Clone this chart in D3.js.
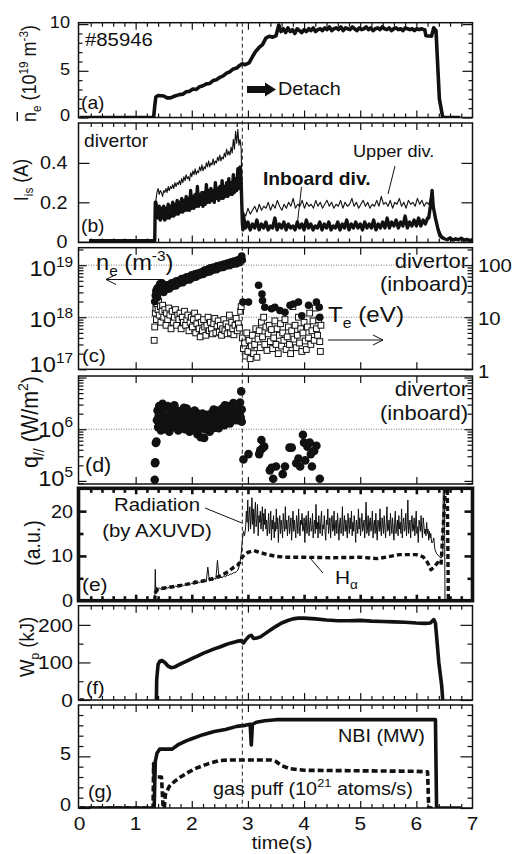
<!DOCTYPE html>
<html>
<head>
<meta charset="utf-8">
<style>
  body { margin: 0; background: #fff; }
  svg { display: block; font-family: "Liberation Sans", Arial, Helvetica, sans-serif; }
  .tr { fill: none; stroke: #111; stroke-linejoin: round; stroke-linecap: butt; }
</style>
</head>
<body>
<svg width="518" height="854"></svg>
<script src="https://d3js.org/d3.v7.min.js"></script>
<script>
// ---- data ----
// samples that are evenly spaced in time between t0 and t1
function spread(t0, t1, vals) {
  var dt = (t1 - t0) / (vals.length - 1);
  return vals.map(function(v, i) { return [t0 + i * dt, v]; });
}

var xTickLabels = [0, 1, 2, 3, 4, 5, 6, 7];
var detachTime = 2.9;

// (a) line averaged density, 1e19 m^-3
var neBarHead = [[0,0],[1.32,0],[1.34,1.2],[1.36,2.2],[1.40,2.35],[1.50,2.3],[1.56,2.1],[1.62,2.1],[1.70,2.3],
  [1.78,2.45],[1.84,2.5],[1.90,2.75],[1.96,2.8],[2.02,3.05],[2.08,3.0],[2.14,3.3],[2.20,3.4],[2.26,3.6],[2.32,3.65],
  [2.38,3.95],[2.44,4.05],[2.50,4.3],[2.56,4.45],[2.62,4.75],[2.68,4.9],[2.74,5.2],[2.80,5.3],[2.86,5.6],[2.90,5.75],
  [2.95,5.65],[3.02,5.85],[3.08,6.5],[3.14,7.1],[3.20,7.5],[3.26,7.8],[3.32,8.5],[3.38,8.7],[3.44,8.6],[3.50,8.75],[3.55,9.9]];
var neBarFlat = [9.2,9.5,9.1,9.6,9.2,9.4,9.0,9.5,9.3,9.1,9.4,9.2,9.5,9.3,9.6,9.2,9.4,9.5,9.3,9.6,9.4,9.7,9.3,9.5,
  9.6,9.4,9.7,9.3,9.6,9.5,9.4,9.7,9.5,9.3,9.6,9.4,9.5,9.7,9.4,9.6,9.3,9.5,9.6,9.4,9.7,9.5,9.4,9.6,9.3,9.5,9.6,9.4,
  9.5,9.3,9.6,9.5,9.4,9.5,9.3,9.5,9.4,9.5,9.4];
var neBarTail = [[6.15,9.4],[6.17,8.75],[6.27,8.7],[6.31,9.6],[6.35,9.3],[6.41,2.0],[6.47,0],[6.78,0]];

// (b) ion saturation current, A
var upperHead = [[0.17,0.005],[1.34,0.005],[1.35,0.15]];
var upperRise = [0.21,0.25,0.27,0.24,0.26,0.25,0.23,0.26,0.25,0.27,0.25,0.28,0.26,0.28,0.27,0.29,0.27,0.30,0.28,0.30,
  0.29,0.31,0.29,0.32,0.30,0.33,0.31,0.34,0.32,0.33,0.31,0.35,0.33,0.36,0.34,0.37,0.34,0.36,0.35,0.38,0.36,0.39,0.36,
  0.38,0.37,0.40,0.38,0.41,0.38,0.40,0.39,0.42,0.39,0.41,0.40,0.43,0.41,0.44,0.41,0.43,0.42,0.45,0.43,0.47,0.44,0.46,
  0.44,0.48,0.45,0.52,0.47,0.56,0.50,0.57,0.49,0.52];
var upperDrop = [[2.88,0.47],[2.89,0.30],[2.90,0.17],[2.91,0.12]];
var upperFlat = [0.15,0.13,0.17,0.14,0.16,0.18,0.15,0.19,0.16,0.18,0.17,0.20,0.16,0.19,0.17,0.21,0.18,0.16,0.19,0.17,
  0.20,0.18,0.22,0.17,0.19,0.18,0.21,0.17,0.20,0.18,0.19,0.17,0.21,0.18,0.20,0.17,0.19,0.21,0.18,0.20,0.17,0.19,0.18,
  0.21,0.17,0.20,0.18,0.19,0.22,0.18,0.20,0.17,0.19,0.21,0.18,0.20,0.17,0.19,0.18,0.21,0.18,0.23,0.19,0.20,0.18,0.21,
  0.17,0.20,0.19,0.22,0.18,0.20,0.17,0.21,0.19,0.20,0.18,0.22,0.19,0.21,0.18,0.20,0.19];
var upperTail = [[6.24,0.21],[6.27,0.24],[6.30,0.20],[6.34,0.13],[6.38,0.08],[6.42,0.05],[6.46,0.03],[6.50,0.02]];

var inboardHead = [[0.17,0.005],[1.34,0.005],[1.35,0.20]];
var inboardRise = [0.20,0.16,0.12,0.18,0.11,0.17,0.12,0.18,0.11,0.17,0.12,0.19,0.12,0.18,0.13,0.20,0.13,0.19,0.14,
  0.21,0.14,0.20,0.15,0.22,0.15,0.21,0.16,0.23,0.16,0.22,0.16,0.26,0.17,0.23,0.17,0.24,0.18,0.28,0.18,0.24,0.19,0.25,
  0.18,0.25,0.19,0.29,0.20,0.26,0.20,0.27,0.21,0.26,0.20,0.30,0.22,0.27,0.21,0.28,0.22,0.31,0.22,0.28,0.23,0.30,0.23,
  0.32,0.24,0.30,0.24,0.34,0.25,0.32,0.26,0.37,0.27,0.38,0.30];
var inboardDrop = [[2.90,0.10],[2.91,0.06]];
var inboardFlat = [0.13,0.07,0.10,0.06,0.09,0.07,0.11,0.06,0.09,0.07,0.10,0.06,0.08,0.07,0.12,0.06,0.09,0.07,0.10,
  0.06,0.09,0.07,0.08,0.06,0.10,0.07,0.09,0.06,0.11,0.07,0.09,0.06,0.08,0.07,0.10,0.06,0.09,0.07,0.10,0.06,0.08,0.07,
  0.10,0.06,0.09,0.07,0.11,0.06,0.09,0.07,0.10,0.07,0.09,0.06,0.10,0.07,0.09,0.07,0.11,0.06,0.09,0.07,0.10,0.07,0.12,
  0.07,0.10,0.08,0.11,0.07,0.10,0.08,0.13,0.07,0.10,0.08,0.11,0.08,0.12,0.08,0.11,0.09,0.12];
var inboardTail = [[6.22,0.12],[6.26,0.20],[6.28,0.26],[6.30,0.18],[6.34,0.12],[6.38,0.07],[6.42,0.03],[6.46,0.02],
  [6.50,0.015],[6.55,0.01],[6.60,0.02],[6.65,0.008],[6.70,0.015],[6.75,0.01],[6.80,0.018],[6.85,0.008],[6.90,0.012],
  [6.95,0.006],[7.0,0.01]];

// (c) divertor density (m^-3) and temperature (eV)
var neDiv = [[1.34,2.0e18],[1.35,2.6e18],[1.36,3.2e18],[1.37,2.8e18],[1.38,3.6e18],[1.40,3.0e18],[1.41,3.9e18],
  [1.43,4.4e18],[1.45,4.0e18],[1.47,4.6e18],[1.49,3.8e18],[1.51,3.5e18],[1.53,3.9e18],[1.56,4.2e18],[1.58,3.7e18],
  [1.61,4.3e18],[1.64,4.6e18],[1.67,4.1e18],[1.70,4.8e18],[1.73,5.0e18],[1.76,4.5e18],[1.79,5.2e18],[1.82,5.5e18],
  [1.85,5.0e18],[1.88,5.7e18],[1.91,6.0e18],[1.94,5.4e18],[1.97,6.2e18],[2.00,6.5e18],[2.03,6.0e18],[2.06,6.8e18],
  [2.09,7.0e18],[2.12,6.4e18],[2.15,7.3e18],[2.18,6.9e18],[2.21,7.8e18],[2.24,8.1e18],[2.27,7.5e18],[2.30,8.5e18],
  [2.33,8.9e18],[2.36,8.2e18],[2.39,9.2e18],[2.42,8.8e18],[2.45,9.7e18],[2.48,9.1e18],[2.51,1.0e19],[2.54,9.5e18],
  [2.57,1.05e19],[2.60,1.0e19],[2.63,1.1e19],[2.66,1.03e19],[2.69,1.15e19],[2.72,1.08e19],[2.75,1.2e19],[2.78,1.12e19],
  [2.81,1.25e19],[2.84,1.18e19],[2.87,1.35e19],[2.89,1.5e19],[2.90,1.25e19],
  [1.39,2.4e18],[1.44,3.2e18],[1.50,3.0e18],[1.55,3.4e18],[1.60,3.5e18],[1.66,3.9e18],[1.72,4.0e18],[1.78,4.5e18],
  [1.84,4.6e18],[1.90,5.1e18],[1.96,5.2e18],[2.02,5.7e18],[2.08,5.9e18],[2.14,6.4e18],[2.20,6.6e18],[2.26,7.2e18],
  [2.32,7.4e18],[2.38,8.0e18],[2.44,8.2e18],[2.50,8.8e18],[2.56,9.0e18],[2.62,9.6e18],[2.68,9.8e18],[2.74,1.04e19],
  [2.80,1.06e19],[2.86,1.13e19],
  [2.91,1.95e18],[3.01,1.95e18],[3.19,4.1e18],[3.25,2.8e18],[3.26,2.1e18],[3.30,1.55e18],[3.42,1.45e18],[3.48,1.55e18],
  [3.57,1.35e18],[3.66,1.25e18],[3.75,1.7e18],[3.81,1.8e18],[3.90,1.95e18],[3.96,1.07e18],[4.08,1.7e18],[4.22,1.95e18],
  [4.27,1.55e18],[4.28,1.0e18]];
var teDiv = [[1.33,3.6],[1.34,6.5],[1.35,12],[1.36,15],[1.37,9],[1.38,18],[1.40,14],[1.41,20],[1.42,11],[1.44,16],
  [1.45,8],[1.47,13],[1.48,17],[1.50,10],[1.52,14],[1.54,7],[1.55,12],[1.57,9],[1.59,15],[1.61,11],[1.63,6],[1.65,13],
  [1.67,8],[1.69,10],[1.71,14],[1.73,7],[1.75,11],[1.77,9],[1.79,12],[1.81,6],[1.83,10],[1.85,8],[1.87,13],[1.89,7],
  [1.91,9],[1.93,11],[1.95,5.5],[1.97,8],[1.99,10],[2.01,6.5],[2.03,9],[2.05,12],[2.07,5],[2.09,7.5],[2.11,10],[2.13,6],
  [2.15,4.2],[2.17,8],[2.19,5.5],[2.21,9],[2.23,6.5],[2.25,4.5],[2.27,7],[2.29,10],[2.31,5.5],[2.33,8],[2.35,6],
  [2.37,4.8],[2.39,7.5],[2.41,9.5],[2.43,5],[2.45,6.8],[2.47,8.5],[2.49,5.2],[2.51,7],[2.53,4.5],[2.55,6],[2.57,9],
  [2.59,5.5],[2.61,7.5],[2.63,4.8],[2.65,6.5],[2.67,11],[2.69,5],[2.71,8],[2.73,6],[2.75,4.6],[2.77,7],[2.79,9.5],
  [2.81,5.5],[2.83,7.5],[2.85,6.2],[2.87,13],[2.88,16],
  [2.90,4],[2.92,2.5],[2.94,3.2],[2.96,1.8],[2.98,5],[3.00,2.2],[3.02,3.6],[3.04,1.6],[3.06,2.8],[3.08,4.5],[3.10,2],
  [3.12,3],[3.14,6],[3.16,1.7],[3.18,3.8],[3.20,5.5],[3.22,2.6],[3.24,8],[3.26,4.2],[3.28,10],[3.30,3],[3.32,6.5],
  [3.34,2.3],[3.36,4.8],[3.38,7],[3.40,3.4],[3.42,5.8],[3.44,2.5],[3.46,4],[3.48,8.5],[3.50,3],[3.52,6],[3.54,2],
  [3.56,4.5],[3.58,7.5],[3.60,2.8],[3.62,5],[3.64,3.6],[3.66,9],[3.68,2.4],[3.70,4.2],[3.72,6.5],[3.74,3],[3.76,2],
  [3.78,5.5],[3.80,16],[3.82,3.8],[3.84,7],[3.86,2.6],[3.88,4.5],[3.90,10],[3.92,3.2],[3.94,6],[3.96,2.2],[3.98,5],
  [4.00,8],[4.02,3.5],[4.04,2.4],[4.06,6.5],[4.08,4],[4.10,12],[4.12,3],[4.14,5.5],[4.16,8.5],[4.18,3.6],[4.20,15],
  [4.22,6],[4.24,4.5],[4.26,9],[4.28,3.4],[4.30,7],[4.29,2.2]];

// (d) parallel heat flux, W/m^2
var qDiv = [[1.34,1.05e5],[1.345,2.2e5],[1.35,2.3e5],[1.36,5.4e5],[1.37,5.8e5],
  [1.38,1.5e6],[1.39,2.3e6],[1.40,1.1e6],[1.41,1.8e6],[1.42,2.8e6],[1.43,1.3e6],[1.45,0.95e6],[1.46,2.1e6],[1.47,1.6e6],
  [1.48,3.1e6],[1.50,1.2e6],[1.51,2.6e6],[1.53,1.0e6],[1.55,1.8e6],[1.57,2.8e6],[1.58,1.3e6],[1.60,0.9e6],[1.62,2.1e6],
  [1.64,1.5e6],[1.66,2.6e6],[1.68,1.1e6],[1.70,1.9e6],[1.72,1.3e6],[1.74,2.3e6],[1.76,0.95e6],[1.78,1.6e6],[1.80,2.1e6],
  [1.82,1.2e6],[1.84,1.5e6],[1.86,2.6e6],[1.88,1.0e6],[1.90,1.8e6],[1.92,1.3e6],[1.94,2.2e6],[1.96,0.9e6],[1.98,1.5e6],
  [2.00,1.2e6],[2.02,1.9e6],[2.04,1.0e6],[2.06,1.4e6],[2.08,2.1e6],[2.10,0.8e6],[2.12,1.3e6],[2.14,1.7e6],[2.16,0.7e6],
  [2.18,1.1e6],[2.20,1.6e6],[2.22,0.68e6],[2.24,1.0e6],[2.26,1.9e6],[2.28,1.2e6],[2.30,1.6e6],[2.32,0.9e6],[2.34,2.0e6],
  [2.36,1.3e6],[2.38,1.05e6],[2.40,1.8e6],[2.42,1.3e6],[2.44,2.3e6],[2.46,1.5e6],[2.48,1.05e6],[2.50,1.9e6],[2.52,1.4e6],
  [2.54,2.5e6],[2.56,1.7e6],[2.58,1.2e6],[2.60,2.2e6],[2.62,1.5e6],[2.64,2.8e6],[2.66,1.8e6],[2.68,1.3e6],[2.70,2.5e6],
  [2.72,1.7e6],[2.74,3.2e6],[2.76,2.1e6],[2.78,1.5e6],[2.80,2.7e6],[2.82,1.9e6],[2.84,2.4e6],[2.86,3.3e6],[2.87,1.7e6],
  [2.88,5.4e6],[2.89,1.4e6],[2.89,2.4e6],
  [1.44,2.5e6],[1.52,1.5e6],[1.63,1.1e6],[1.69,2.9e6],[1.75,1.7e6],[1.85,1.1e6],[1.91,2.5e6],[1.99,1.9e6],[2.05,2.3e6],
  [2.13,1.0e6],[2.19,2.0e6],[2.27,1.5e6],[2.33,1.3e6],[2.39,2.4e6],[2.45,1.1e6],[2.53,1.9e6],[2.59,2.9e6],[2.65,1.4e6],
  [2.71,2.1e6],[2.77,2.9e6],[2.83,1.5e6],[2.85,2.0e6],
  [2.92,2.6e5],[3.01,3.3e5],[3.20,3.3e5],[3.22,3.9e5],[3.24,6.2e5],[3.26,4.3e5],[3.29,4.6e5],[3.39,1.6e5],[3.42,1.8e5],
  [3.45,1.1e5],[3.50,1.9e5],[3.62,1.35e5],[3.66,1.9e5],[3.74,4.4e5],[3.78,4.4e5],[3.86,2.2e5],[3.90,2.7e5],[3.93,1.9e5],
  [3.98,7.8e5],[4.00,5.5e5],[4.02,2.5e5],[4.06,4.6e5],[4.10,5.5e5],[4.12,3.3e5],[4.14,1.9e5],[4.18,3.8e5],[4.22,4.8e5],
  [4.28,1.1e5]];

// (e) radiation (AXUVD) and H-alpha, a.u.
var radHead = [[1.34,0],[1.35,7],[1.36,1.5],[1.37,3.0],[1.38,2.3]];
var radRise = [2.6,2.8,2.5,2.9,2.7,3.0,2.8,3.1,2.9,3.2,3.0,3.3,3.1,3.5,3.2,3.6,3.3,3.7,3.5,3.8,3.6,4.0,3.7,4.6,3.9,
  4.2,4.0,4.4,4.1,4.5,4.2,7.5,4.4,4.7,4.5,5.0,4.8,9.0,5.0,5.3,5.1,5.6,5.3,5.8,5.6,6.0,5.9,6.3,6.2,6.6];
var radJump = [[2.82,6.8],[2.84,7.5],[2.86,8.6],[2.88,10.5],[2.90,13.5],[2.92,15.5],[2.94,14.5]];
var radFlat = [16.5,20,17.5,22.5,15.5,19,21,16,18.5,23,17,20.5,15,19.5,22,16.5,18,21.5,14.5,19,
  17.5,20,16,18.5,21,15.5,19.5,17,20.5,16,
  18,14.5,17,19.5,15,16.5,20,13.5,18,16,19,14,17.5,15.5,20.5,16,18.5,13,17,19,
  15,18,16.5,14,19.5,17,15.5,21,16,18,14.5,17.5,19,15,16.5,18.5,13.5,17,20,15.5,
  18,16,14,19,17.5,15,20.5,16.5,14.5,18,17,19.5,15.5,16,18.5,13,17.5,19,15,16.5,
  20,14.5,17,18.5,15.5,16,19.5,14,17,18,15,21.5,16,17.5,14,19,16.5,15,18,20,
  14.5,17,16,19,15.5,13.5,18,17,20.5,15,16.5,18.5,14,17.5,19,15.5,16,20,14.5,17,
  18,15,19.5,16.5,13.5,17.5,18.5,15,16,21,14.5,17,19,15.5,18,16,14,19.5,17,15,
  18.5,16,20,14.5,17.5,15.5,19,16.5,13,18,17,15,20.5,16,18.5,14.5,17,19.5,15.5,16.5,
  18,14,17.5,22,15,16,19,14.5,17.5,18.5,15.5,16.5,20,14,17,18,15,19.5,16,13.5,
  18,17,15.5,20.5,16,14.5,18.5,17,15,19,16.5,14,17.5,21,15.5,16,18,14.5,19.5,17,
  15,18.5,16,13.5,17.5,20,15,16.5,18,14.5,19,16,17.5,15,20.5,14,17,18.5,15.5,16,
  19.5,14.5,17,22.5,15,16.5,18,14,17.5,19,15.5,16,18.5,14.5,17,20,15,16.5,13,18,
  17,15.5,19,16,14,18.5,17,15,16,14.5,17.5,15,16,13.5,15.5,14,15,13];
var radTail = [[6.29,13],[6.31,14],[6.33,11.5],[6.36,10.5],[6.40,10],[6.44,9.5],[6.47,10],[6.48,26],[6.50,26],[6.51,0],[6.60,0]];
var hAlpha = [[1.34,0],[1.35,1.8],[1.40,2.6],[1.6,3.0],[1.8,3.4],[2.0,3.9],[2.2,4.4],[2.4,5.0],[2.5,5.5],[2.65,6.5],
  [2.74,7.4],[2.82,8.0],[2.86,8.6],[2.9,9.8],[3.0,10.8],[3.1,11.2],[3.2,10.8],[3.35,10.3],[3.5,9.9],[3.7,9.7],[4.0,9.7],
  [4.5,9.6],[5.0,9.7],[5.3,9.4],[5.5,9.8],[5.7,10.3],[6.0,10.3],[6.12,9.8],[6.2,8.5],[6.26,6.9],[6.32,7.6],[6.38,8.5],
  [6.44,8.0],[6.52,26],[6.55,26],[6.57,0],[6.62,0]];

// (f) stored energy, kJ
var wpStart = [[0,0],[0.08,0]];
var wp = [[1.37,0],[1.375,55],[1.40,95],[1.43,103],[1.47,105],[1.52,100],[1.58,90],[1.63,86],[1.70,88],[1.80,96],
  [1.90,103],[2.00,110],[2.10,117],[2.20,124],[2.30,130],[2.40,136],[2.50,141],[2.60,147],[2.70,152],[2.80,156],
  [2.88,158],[2.92,152],[2.96,160],[3.02,170],[3.06,172],[3.10,164],[3.16,165],[3.22,168],[3.30,176],[3.40,186],
  [3.50,196],[3.60,205],[3.70,211],[3.80,216],[3.90,218],[4.00,218],[4.20,216],[4.40,213],[4.60,211],[4.80,211],
  [5.00,212],[5.20,210],[5.40,209],[5.60,208],[5.80,207],[6.00,205],[6.15,204],[6.25,205],[6.31,214],[6.34,205],
  [6.40,100],[6.45,40],[6.47,0]];

// (g) NBI power (MW) and gas puff (1e21 atoms/s)
var nbi = [[0,0],[1.33,0],[1.35,4.5],[1.38,5.3],[1.43,5.7],[1.65,5.7],[1.75,6.1],[1.9,6.5],[2.0,6.7],[2.2,7.1],[2.4,7.4],
  [2.6,7.6],[2.8,7.9],[2.95,8.0],[3.04,8.1],[3.06,6.1],[3.08,8.1],[3.15,8.3],[3.3,8.45],[3.5,8.55],[6.34,8.55],[6.36,0],[6.8,0]];
var gasPuff = [[0,0],[1.31,0],[1.32,4.3],[1.33,3.0],[1.46,3.0],[1.49,0],[1.51,0],[1.53,1.3],[1.6,2.1],[1.7,2.6],[1.8,3.0],
  [1.95,3.5],[2.1,3.9],[2.3,4.3],[2.5,4.6],[2.7,4.65],[3.4,4.65],[3.5,4.5],[3.6,4.1],[3.75,3.8],[4.0,3.65],[5.0,3.6],
  [6.0,3.55],[6.2,3.5],[6.22,0],[6.3,0]];

var neBar = neBarHead.concat(spread(3.59, 6.13, neBarFlat), neBarTail);
var upperDiv = upperHead.concat(spread(1.36, 2.86, upperRise), upperDrop, spread(2.92, 6.22, upperFlat), upperTail);
var inboardDiv = inboardHead.concat(spread(1.36, 2.88, inboardRise), inboardDrop, spread(2.92, 6.20, inboardFlat), inboardTail);
var radiation = radHead.concat(spread(1.40, 2.80, radRise), radJump, spread(2.96, 6.27, radFlat), radTail);

// ---- drawing ----
var INK = "#111";
var SX = 1.1;           // the scan is a little wider than tall
var svg = d3.select("svg");
var L = 78.5, R = 472.5;
var x = d3.scaleLinear().domain([0, 7]).range([79.5, 472.5]);

var xMinor = d3.range(0.2, 7, 0.2).filter(function(v) { return Math.abs(v - Math.round(v)) > 0.01; });
var xMajor = [1, 2, 3, 4, 5, 6];

function logMinor(lo, hi) {
  var out = [];
  for (var d = 4; d <= 19; d++) for (var m = 2; m <= 9; m++) {
    var v = m * Math.pow(10, d);
    if (v > lo && v < hi) out.push(v);
  }
  return out;
}

function label(sel, px, py, parts, size, opt) {
  opt = opt || {};
  var tr = "translate(" + px + "," + py + ") scale(" + SX + ",1)" + (opt.rot ? " rotate(-90)" : "");
  var t = sel.append("text").attr("transform", tr).attr("font-size", size)
    .attr("text-anchor", opt.anchor || "start").attr("fill", INK).style("white-space", "pre");
  if (opt.bold) t.attr("font-weight", "bold");
  var shift = 0;
  parts.forEach(function(p) {
    if (typeof p === "string") p = {t: p};
    var target = p.sup ? -0.42 * size : (p.sub ? 0.26 * size : 0);
    t.append("tspan").attr("dy", target - shift)
      .attr("font-size", (p.sup || p.sub) ? size * 0.65 : size).text(p.t);
    shift = target;
  });
  return t;
}

function axisTicks(g, fn, scale, vals, len, tx, ty, sw) {
  g.append("g").attr("transform", "translate(" + tx + "," + ty + ")")
    .call(fn(scale).tickValues(vals).tickSize(len).tickFormat(""))
    .call(function(s) { s.select(".domain").remove(); })
    .selectAll("line").attr("stroke", INK).attr("stroke-width", sw);
}

function panel(id, top, bot, y, o) {
  var g = svg.append("g");
  svg.append("clipPath").attr("id", "clip-" + id).append("rect")
    .attr("x", L).attr("y", top).attr("width", R - L).attr("height", bot - top);
  var plot = g.append("g").attr("clip-path", "url(#clip-" + id + ")");
  (o.grid || []).forEach(function(v) {
    plot.append("line").attr("x1", L).attr("x2", R).attr("y1", y(v)).attr("y2", y(v))
      .attr("stroke", "#777").attr("stroke-width", 1).attr("stroke-dasharray", "1,1.5");
  });
  var deco = svg.append("g");
  var sw = o.sw || 1.2;
  axisTicks(deco, d3.axisBottom, x, xMajor, o.xMajLen || 7, 0, top, sw);
  axisTicks(deco, d3.axisTop, x, xMajor, o.xMajLen || 7, 0, bot, sw);
  if (o.xMin !== false) {
    axisTicks(deco, d3.axisBottom, x, xMinor, o.xMinLen || 4, 0, top, sw);
    axisTicks(deco, d3.axisTop, x, xMinor, o.xMinLen || 4, 0, bot, sw);
  }
  axisTicks(deco, d3.axisRight, y, o.yMaj, o.yMajLen || 10, L, 0, sw);
  axisTicks(deco, d3.axisLeft, y, o.yMaj, o.yMajLen || 10, R, 0, sw);
  if (o.yMin) {
    axisTicks(deco, d3.axisRight, y, o.yMin, o.yMinLen || 4, L, 0, sw);
    axisTicks(deco, d3.axisLeft, y, o.yMin, o.yMinLen || 4, R, 0, sw);
  }
  deco.append("rect").attr("x", L).attr("y", top).attr("width", R - L).attr("height", bot - top)
    .attr("fill", "none").attr("stroke", INK).attr("stroke-width", o.frame || 1.5);
  return {plot: plot, deco: deco};
}

function trace(plot, data, y, w, dash) {
  plot.append("path").datum(data).attr("class", "tr")
    .attr("stroke-width", w).attr("stroke-dasharray", dash || null)
    .attr("d", d3.line().x(function(d) { return x(d[0]); }).y(function(d) { return y(d[1]); }));
}

function plainLabels(g, y, vals, xEnd, size, dy) {
  vals.forEach(function(v) {
    label(g, xEnd, y(v) + size * 0.36 + (dy || 0), [String(v)], size, {anchor: "end"});
  });
}

// (a)
var ya = d3.scaleLinear().domain([0, 10.15]).range([117.5, 22.7]);
var pa = panel("a", 22.7, 117.5, ya, {yMaj: [0, 5, 10], yMin: [1, 2, 3, 4, 6, 7, 8, 9]});
trace(pa.plot, neBar, ya, 3.6);
plainLabels(svg, ya, [0, 5, 10], 70, 16.5, -2);
label(svg, 85, 46, ["#85946"], 18.5);
label(svg, 278, 95, ["Detach"], 18);
label(svg, 81, 109, ["(a)"], 17.5);
svg.append("path").attr("fill", INK)
  .attr("d", "M247,86 L265,86 L265,82.5 L276,89.5 L265,96.5 L265,93 L247,93 Z");
var ta = svg.append("g").attr("transform", "translate(36,122) scale(" + SX + ",1) rotate(-90)");
var taText = ta.append("text").attr("font-size", 18).attr("fill", INK).style("white-space", "pre");
[["n", 0], ["e", 1], [" (10", 0], ["19", 2], [" m", 0], ["-3", 2], [")", 0]].forEach(function(p, i, arr) {
  var lvl = [0, 4.7, -7.6];
  var prev = i ? lvl[arr[i - 1][1]] : 0;
  taText.append("tspan").attr("dy", lvl[p[1]] - prev).attr("font-size", p[1] ? 11.7 : 18).text(p[0]);
});
ta.append("line").attr("x1", 1).attr("x2", 10).attr("y1", -17).attr("y2", -17)
  .attr("stroke", INK).attr("stroke-width", 1.3);

// (b)
var yb = d3.scaleLinear().domain([-0.004, 0.6025]).range([242.5, 123]);
var pb = panel("b", 123, 242.5, yb, {yMaj: [0, 0.2, 0.4], yMajLen: 11});
trace(pb.plot, upperDiv, yb, 1.1);
trace(pb.plot, inboardDiv, yb, 3.4);
plainLabels(svg, yb, [0, 0.2, 0.4], 67.5, 18);
label(svg, 84, 147, ["divertor"], 17.5);
label(svg, 353, 157, ["Upper div."], 16.5);
label(svg, 263, 185, ["Inboard div."], 17.5, {bold: true});
label(svg, 81, 232, ["(b)"], 17.5);
svg.append("line").attr("x1", 395).attr("y1", 166).attr("x2", 388).attr("y2", 194).attr("stroke", INK).attr("stroke-width", 1);
svg.append("line").attr("x1", 301.5).attr("y1", 187).attr("x2", 297.5).attr("y2", 222).attr("stroke", INK).attr("stroke-width", 1);
label(svg, 28, 180, ["I", {t: "is", sub: true}, " (A)"], 18, {rot: true, anchor: "middle"});

// (c)
var yc = d3.scaleLog().domain([1e17, Math.pow(10, 19.335)]).range([369.3, 247.7]);
var yc2 = d3.scaleLog().domain([1, Math.pow(10, 2.335)]).range([369.3, 247.7]);
var pc = panel("c", 247.7, 369.3, yc, {yMaj: [1e17, 1e18, 1e19], yMin: logMinor(1e17, Math.pow(10, 19.335)),
  xMin: false, yMajLen: 8, yMinLen: 5, grid: [1e18, 1e19]});
pc.plot.selectAll("rect.te").data(teDiv).enter().append("rect").attr("class", "te")
  .attr("x", function(d) { return x(d[0]) - 2.9; }).attr("y", function(d) { return yc2(d[1]) - 2.9; })
  .attr("width", 5.8).attr("height", 5.8).attr("fill", "#fff").attr("stroke", INK).attr("stroke-width", 1);
pc.plot.selectAll("circle").data(neDiv).enter().append("circle")
  .attr("cx", function(d) { return x(d[0]); }).attr("cy", function(d) { return yc(d[1]); })
  .attr("r", 3.8).attr("fill", INK);
[[19, 276], [18, 327], [17, 372]].forEach(function(p) {
  label(svg, 73, p[1], ["10", {t: String(p[0]), sup: true}], 21.5, {anchor: "end"});
});
[[100, 271.5], [10, 324.5], [1, 378]].forEach(function(p) {
  label(svg, 478, p[1], [String(p[0])], 18.5);
});
label(svg, 96, 270, ["n", {t: "e", sub: true}, " (m", {t: "-3", sup: true}, ")"], 21.5);
label(svg, 468, 268, ["divertor"], 20, {anchor: "end"});
label(svg, 468, 290.5, ["(inboard)"], 20, {anchor: "end"});
label(svg, 328, 322, ["T", {t: "e", sub: true}, " (eV)"], 22);
label(svg, 82, 362, ["(c)"], 18.5);
svg.append("path").attr("fill", "none").attr("stroke", INK).attr("stroke-width", 1)
  .attr("d", "M162,279.5 L106,279.5 M116,274.5 L106,279.5 L116,284.5");
svg.append("path").attr("fill", "none").attr("stroke", INK).attr("stroke-width", 1)
  .attr("d", "M328,340 L383,340 M373,335 L383,340 L373,345");

// (d)
var yd = d3.scaleLog().domain([Math.pow(10, 4.94), Math.pow(10, 7.03)]).range([484, 376]);
var pd = panel("d", 376, 484, yd, {yMaj: [1e5, 1e6, 1e7], yMin: logMinor(Math.pow(10, 4.94), Math.pow(10, 7.03)),
  xMin: false, yMajLen: 8, yMinLen: 5, grid: [1e6]});
pd.plot.selectAll("circle").data(qDiv).enter().append("circle")
  .attr("cx", function(d) { return x(d[0]); }).attr("cy", function(d) { return yd(d[1]); })
  .attr("r", 4.3).attr("fill", INK);
[[6, 436.5], [5, 486]].forEach(function(p) {
  label(svg, 73, p[1], ["10", {t: String(p[0]), sup: true}], 21.5, {anchor: "end"});
});
label(svg, 468, 396, ["divertor"], 20, {anchor: "end"});
label(svg, 468, 420, ["(inboard)"], 20, {anchor: "end"});
label(svg, 85, 472, ["(d)"], 19.5);
label(svg, 38, 422, ["q", {t: "//", sub: true}, " (W/m", {t: "2", sup: true}, ")"], 21.5, {rot: true, anchor: "middle"});

// (e)
var ye = d3.scaleLinear().domain([0, 25.1]).range([600.7, 488.3]);
var pe = panel("e", 488.3, 600.7, ye, {yMaj: [10, 20], yMin: [5, 15], yMajLen: 8, yMinLen: 5,
  frame: 3.6, sw: 2.6, xMajLen: 6, xMinLen: 4.5});
trace(pe.plot, radiation, ye, 1);
trace(pe.plot, hAlpha, ye, 3.4, "5,3");
plainLabels(svg, ye, [0, 10, 20], 73, 18);
label(svg, 157, 511, ["Radiation"], 18.5, {anchor: "middle"});
label(svg, 157, 537, ["(by AXUVD)"], 18.5, {anchor: "middle"});
label(svg, 335, 584, ["H", {t: "\u03b1", sub: true}], 19);
label(svg, 82, 591, ["(e)"], 19);
svg.append("line").attr("x1", 205).attr("y1", 508).attr("x2", 242).attr("y2", 523).attr("stroke", INK).attr("stroke-width", 1);
svg.append("line").attr("x1", 310).attr("y1", 558).attr("x2", 323).attr("y2", 573).attr("stroke", INK).attr("stroke-width", 1);
label(svg, 40, 543, ["(a.u.)"], 19.5, {rot: true, anchor: "middle"});

// (f)
var yf = d3.scaleLinear().domain([0, 251]).range([700, 605.7]);
var pf = panel("f", 605.7, 700, yf, {yMaj: [0, 100, 200], yMin: [50, 150], yMajLen: 12, yMinLen: 5});
trace(pf.plot, wpStart, yf, 3.6);
trace(pf.plot, wp, yf, 3.6);
plainLabels(svg, yf, [0, 100, 200], 73, 19);
label(svg, 86, 694, ["(f)"], 18);
label(svg, 34, 647, ["W", {t: "p", sub: true}, " (kJ)"], 18.5, {rot: true, anchor: "middle"});

// (g)
var yg = d3.scaleLinear().domain([0, 9.97]).range([808, 705]);
var pg = panel("g", 705, 808, yg, {yMaj: [0, 5], yMin: [1, 2, 3, 4, 6, 7, 8, 9], yMajLen: 12, yMinLen: 5});
trace(pg.plot, gasPuff, yg, 3.6, "6,3");
trace(pg.plot, nbi, yg, 3.6);
plainLabels(svg, yg, [0, 5], 71, 18, -3);
label(svg, 338, 742, ["NBI (MW)"], 18);
label(svg, 213, 795, ["gas puff (10", {t: "21", sup: true}, " atoms/s)"], 18);
label(svg, 88, 798, ["(g)"], 18);

// shared time axis
xTickLabels.forEach(function(v) {
  label(svg, x(v), 830, [String(v)], 19, {anchor: "middle"});
});
label(svg, 282, 849, ["time(s)"], 18, {anchor: "middle"});

// detachment time marker across all panels
svg.append("line").attr("x1", x(detachTime)).attr("x2", x(detachTime)).attr("y1", 22.7).attr("y2", 808)
  .attr("stroke", "#222").attr("stroke-width", 1).attr("stroke-dasharray", "4,3");
</script>
</body>
</html>
